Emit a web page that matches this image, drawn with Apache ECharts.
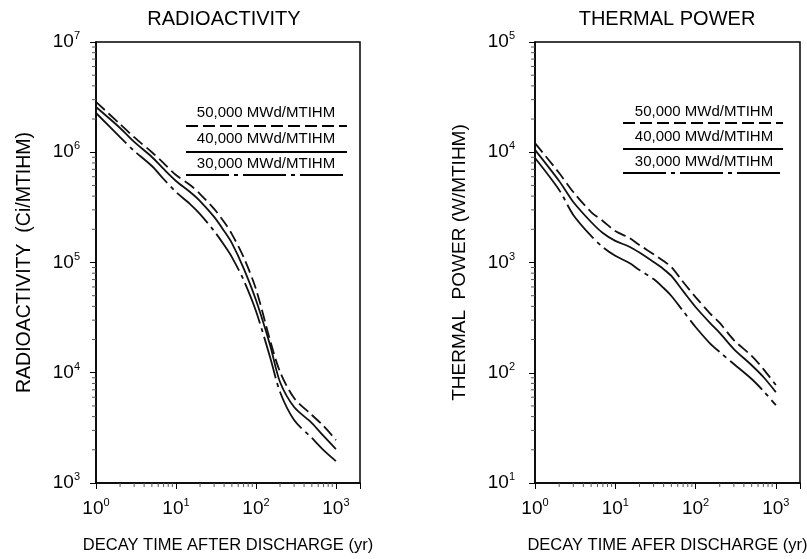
<!DOCTYPE html>
<html>
<head>
<meta charset="utf-8">
<style>
html, body { margin: 0; padding: 0; background: #fff; }
#chart { width: 807px; height: 559px; }
</style>
<script src="https://cdn.jsdelivr.net/npm/echarts@6/dist/echarts.min.js"></script>
</head>
<body>
<div id="chart"></div>
<script>
var years = [1, 2, 3, 5, 7, 10, 15, 20, 30, 40, 50, 70, 100, 150, 200, 300, 500, 700, 1000];

// radioactivity (Ci/MTIHM)
var act50 = [2.86e6, 1.80e6, 1.37e6, 1.00e6, 7.98e5, 6.22e5, 5.05e5, 4.18e5, 3.06e5, 2.33e5, 1.81e5, 1.12e5, 5.75e4, 1.98e4, 1.02e4, 5.90e3, 4.14e3, 3.29e3, 2.45e3];
var act40 = [2.57e6, 1.66e6, 1.24e6, 9.06e5, 7.05e5, 5.49e5, 4.36e5, 3.61e5, 2.59e5, 1.93e5, 1.50e5, 8.91e4, 4.57e4, 1.79e4, 8.24e3, 4.89e3, 3.50e3, 2.67e3, 2.03e3];
var act30 = [2.27e6, 1.37e6, 1.03e6, 7.50e5, 5.72e5, 4.36e5, 3.39e5, 2.75e5, 1.93e5, 1.44e5, 1.12e5, 6.94e4, 3.63e4, 1.39e4, 6.69e3, 3.73e3, 2.56e3, 1.99e3, 1.58e3];

// thermal power (W/MTIHM)
var pow50 = [12100, 6480, 4360, 2870, 2380, 1930, 1670, 1440, 1190, 1030, 911, 665, 486, 348, 283, 198, 142, 108, 77.4];
var pow40 = [10500, 5480, 3540, 2330, 1850, 1570, 1390, 1230, 1010, 870, 755, 550, 395, 285, 230, 164, 117, 91.5, 66.8];
var pow30 = [8870, 4550, 2700, 1740, 1380, 1150, 989, 855, 708, 587, 497, 363, 260, 186, 154, 120, 87.7, 68.3, 50.9];

var burnups = ['50,000 MWd/MTIHM', '40,000 MWd/MTIHM', '30,000 MWd/MTIHM'];

// log minor tick positions (2..9 in each decade)
var mantissas = [2, 3, 4, 5, 6, 7, 8, 9];
var xDecades = [1, 10, 100];
var actDecades = [1e3, 1e4, 1e5, 1e6];
var powDecades = [10, 100, 1000, 10000];

var FONT = '"Liberation Sans", Arial, sans-serif';
var dash = [12, 5];
var dashDot = [43, 5, 4, 5];
var styles = [dash, 'solid', dashDot];

function pow10Label(v) {
    var e = Math.log10(v);
    var n = Math.round(e);
    if (Math.abs(e - n) > 1e-6) return '';
    return '{b|10}{s|' + n + '}';
}
var rich = {
    b: { fontSize: 19, fontFamily: FONT, color: '#000', padding: [4, 0, 0, 0], lineHeight: 19 },
    s: { fontSize: 11, fontFamily: FONT, color: '#000', verticalAlign: 'top', lineHeight: 12 }
};

function logAxis(grid, min, max, name, gap, margin, nameSize) {
    return {
        type: 'log',
        logBase: 10,
        gridIndex: grid,
        min: min,
        max: max,
        name: name,
        nameLocation: 'middle',
        nameGap: gap,
        nameTextStyle: { fontFamily: FONT, fontSize: nameSize, color: '#000' },
        axisLine: { show: true, lineStyle: { color: '#000', width: 1.5 } },
        axisTick: { show: true, inside: false, length: 6, lineStyle: { color: '#000' } },
        splitLine: { show: false },
        axisLabel: { formatter: pow10Label, rich: rich, margin: margin, padding: [0, 0, 4, 0] }
    };
}

function pairs(ys) {
    return years.map(function (t, i) { return [t, ys[i]]; });
}

function curves(gi, sets) {
    return sets.map(function (ys, i) {
        return {
            name: burnups[i],
            type: 'line',
            xAxisIndex: gi,
            yAxisIndex: gi,
            data: pairs(ys),
            showSymbol: false,
            smooth: 0.3,
            lineStyle: { color: '#111', width: 1.8, type: styles[i] }
        };
    });
}

function minorValues(decades) {
    var out = [];
    decades.forEach(function (d) {
        mantissas.forEach(function (m) { out.push(m * d); });
    });
    return out;
}

function minorTicks(gi, xMin, yMin) {
    var yData = minorValues(gi === 0 ? actDecades : powDecades).map(function (v) { return [xMin, v, 0]; });
    var xData = minorValues(xDecades).map(function (v) { return [v, yMin, 1]; });
    return {
        type: 'custom',
        xAxisIndex: gi,
        yAxisIndex: gi,
        silent: true,
        clip: false,
        data: yData.concat(xData),
        renderItem: function (params, api) {
            var p = api.coord([api.value(0), api.value(1)]);
            var vertical = api.value(2) === 1;
            return {
                type: 'line',
                shape: vertical
                    ? { x1: p[0], y1: p[1], x2: p[0], y2: p[1] + 4 }
                    : { x1: p[0] - 4, y1: p[1], x2: p[0], y2: p[1] },
                style: { stroke: '#555', lineWidth: 1 }
            };
        }
    };
}

function legendBlock(cx, x1, x2, textY, lineY) {
    var out = [];
    for (var i = 0; i < 3; i++) {
        out.push({
            type: 'text', x: cx, y: textY[i],
            style: { text: burnups[i], fill: '#000', font: '15px ' + FONT, align: 'center', verticalAlign: 'middle' }
        });
        out.push({
            type: 'line',
            shape: { x1: x1, y1: lineY[i], x2: x2, y2: lineY[i] },
            style: { stroke: '#000', lineWidth: 1.8, lineDash: styles[i] === 'solid' ? null : styles[i] }
        });
    }
    return out;
}

var chart = echarts.init(document.getElementById('chart'));
chart.setOption({
    backgroundColor: '#fff',
    animation: false,
    grid: [
        { left: 96, top: 42, width: 264, height: 441, show: true, borderColor: '#000', borderWidth: 1.5, containLabel: false, outerBoundsMode: 'none' },
        { left: 535, top: 42, width: 265, height: 441, show: true, borderColor: '#000', borderWidth: 1.5, containLabel: false, outerBoundsMode: 'none' }
    ],
    xAxis: [
        logAxis(0, 1, 2000, 'DECAY TIME AFTER DISCHARGE (yr)', 54, 14, 16.5),
        logAxis(1, 1, 2000, 'DECAY TIME AFER DISCHARGE (yr)', 54, 14, 16.5)
    ],
    yAxis: [
        logAxis(0, 1e3, 1e7, 'RADIOACTIVITY  (Ci/MTIHM)', 61, 16, 19.5),
        logAxis(1, 10, 1e5, 'THERMAL  POWER (W/MTIHM)', 66, 20, 19)
    ],
    graphic: [
        { type: 'text', x: 224, y: 19, style: { text: 'RADIOACTIVITY', fill: '#000', font: '20px ' + FONT, align: 'center', verticalAlign: 'middle' } },
        { type: 'text', x: 667, y: 19, style: { text: 'THERMAL POWER', fill: '#000', font: '20px ' + FONT, align: 'center', verticalAlign: 'middle' } }
    ].concat(
        legendBlock(266, 186, 347, [113, 139, 164], [126, 152, 175]),
        legendBlock(704, 623, 783, [112, 137, 162], [123, 149, 173])
    ),
    series: curves(0, [act50, act40, act30])
        .concat(curves(1, [pow50, pow40, pow30]))
        .concat([minorTicks(0, 1, 1e3), minorTicks(1, 1, 10)])
});
</script>
</body>
</html>
